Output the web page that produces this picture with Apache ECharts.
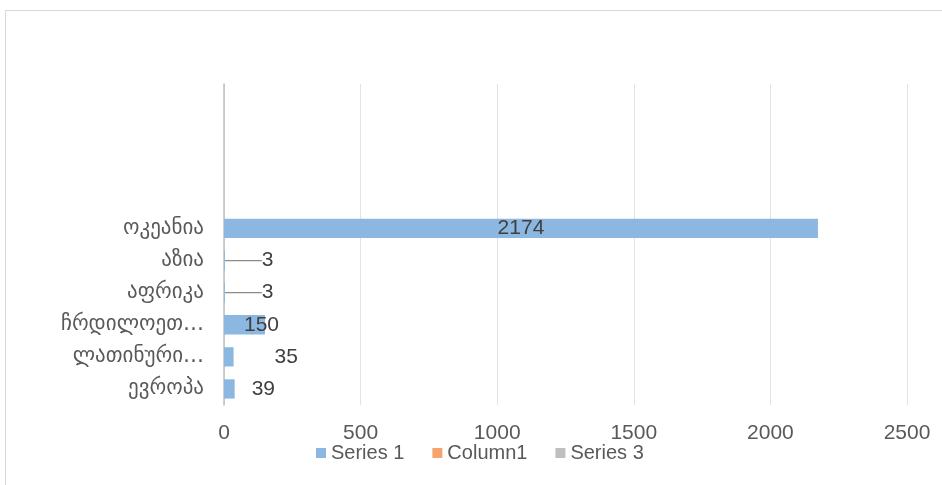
<!DOCTYPE html>
<html>
<head>
<meta charset="utf-8">
<script src="https://cdn.jsdelivr.net/npm/echarts@6/dist/echarts.min.js"></script>
<style>
  html, body { margin: 0; padding: 0; background: #fff; overflow: hidden; }
  #wrap { position: relative; width: 942px; height: 485px; overflow: hidden; }
  #frame { position: absolute; left: 5px; top: 10px; width: 950px; height: 490px; border: 1px solid #d9d9d9; box-sizing: border-box; }
  #chart { position: absolute; left: 0; top: 0; width: 942px; height: 485px; }
</style>
</head>
<body>
<div id="wrap">
  <div id="frame"></div>
  <div id="chart"></div>
</div>
<script>
// categories bottom -> top, top four rows are empty in the original
const categories = ['ევროპა', 'ლათინური ამერიკა', 'ჩრდილოეთ ამერიკა', 'აფრიკა', 'აზია', 'ოკეანია', ' ', '  ', '   ', '    ']
const series1 = [39, 35, 150, 3, 3, 2174, null, null, null, null]
const column1 = [null, null, null, null, null, null, null, null, null, null]
const series3 = [null, null, null, null, null, null, null, null, null, null]
const xTicks = [0, 500, 1000, 1500, 2000, 2500]

// label shifts (px) as moved by hand in the source sheet
const labelShift = [12, 36, -26, 32, 32, 0]

const chart = echarts.init(document.getElementById('chart'))

const textColor = '#595959'
const numFont = "'Liberation Sans', Arial, sans-serif"
const geoFont = "'DejaVu Sans', 'Noto Sans', sans-serif"

// long names get cut like in the sheet
const shortName = (s) => {
  const chars = Array.from(s)
  return chars.length > 9 ? chars.slice(0, 8).join('') + '…' : s
}

chart.setOption({
  animation: false,
  textStyle: { fontFamily: numFont },
  grid: { left: 224, right: 35, top: 84, bottom: 80, outerBoundsMode: 'none' },
  legend: {
    top: 438,
    left: 311,
    itemWidth: 10,
    itemHeight: 10,
    itemGap: 28,
    icon: 'rect',
    textStyle: { color: textColor, fontSize: 20, fontFamily: numFont },
    data: ['Series 1', 'Column1', 'Series 3'],
  },
  xAxis: {
    type: 'value',
    min: xTicks[0],
    max: xTicks[xTicks.length - 1],
    interval: 500,
    axisLine: { show: false },
    axisTick: { show: false },
    splitLine: { lineStyle: { color: '#e3e3e3', width: 1 } },
    axisLabel: {
      color: textColor,
      fontSize: 21,
      margin: 18,
      formatter: (v) => String(v),
    },
  },
  yAxis: {
    type: 'category',
    data: categories,
    axisLine: { lineStyle: { color: '#bfbfbf', width: 1.5 } },
    axisTick: { show: false },
    axisLabel: {
      color: textColor,
      fontSize: 21,
      fontFamily: geoFont,
      margin: 20,
      formatter: shortName,
    },
  },
  series: [
    {
      name: 'Series 1',
      type: 'bar',
      stack: 'all',
      barWidth: '60%',
      itemStyle: { color: '#8bb7e1' },
      data: series1.map((v, i) => {
        if (v === null) return v
        if (i === 5) {
          return { value: v, label: { position: 'inside' } }
        }
        return {
          value: v,
          labelLine: { show: v < 10, lineStyle: { color: '#8c8c8c', width: 1.2 } },
        }
      }),
      label: {
        show: true,
        position: 'right',
        distance: 5,
        color: '#404040',
        fontSize: 21,
        fontFamily: numFont,
      },
      labelLayout: (p) => ({ dx: labelShift[p.dataIndex] || 0 }),
    },
    {
      name: 'Column1',
      type: 'bar',
      stack: 'all',
      itemStyle: { color: '#f4a46c' },
      data: column1,
    },
    {
      name: 'Series 3',
      type: 'bar',
      stack: 'all',
      itemStyle: { color: '#bfbfbf' },
      data: series3,
    },
  ],
})
</script>
</body>
</html>
